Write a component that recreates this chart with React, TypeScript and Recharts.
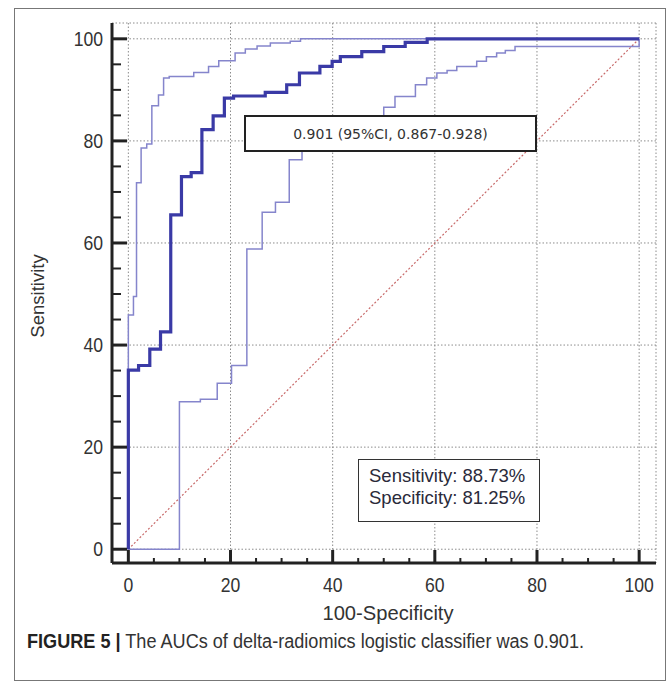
import React from 'react';
import { LineChart, Line, XAxis, YAxis, CartesianGrid } from 'recharts';

// ROC curve corner points (x = 100-Specificity, y = Sensitivity)
const rocX = [0, 0, 2, 4.2, 6.3, 8.3, 10.4, 12.3, 14.4, 16.6, 18.8, 20.6, 26.8, 31, 33.5, 37.5, 39.9, 41.5, 45.7, 50, 54.2, 58.5, 100];
const rocY = [0, 35.1, 36, 39.2, 42.6, 65.5, 73, 73.8, 82.2, 84.9, 88.4, 88.8, 89.5, 91, 93.3, 94.6, 95.6, 96.5, 97.5, 98.5, 99.3, 100, 100];

// upper 95% CI
const upperX = [0, 0, 1, 1.6, 2.5, 3.6, 4.6, 5.9, 6.9, 8, 12.8, 15.7, 17.7, 20.9, 22.9, 25.2, 27.8, 31.7, 33.7, 100];
const upperY = [0, 45.9, 49.5, 71.8, 78.6, 79.4, 86.9, 89, 92.3, 92.6, 93.4, 94.6, 95.7, 97.2, 98, 98.6, 99.2, 99.5, 100, 100];

// lower 95% CI
const lowerX = [0, 10, 14.1, 17.4, 20.2, 23.2, 26.2, 28.8, 31.5, 34, 38, 42, 46, 50, 52.2, 56.2, 58.4, 60.4, 62.4, 64.3, 68.2, 70.1, 72.1, 73.8, 75.7, 100];
const lowerY = [0, 28.9, 29.4, 32.5, 36, 58.8, 66, 68, 76.3, 78.5, 80.5, 82, 83.5, 86.6, 88.7, 91, 92.3, 93.3, 93.8, 94.6, 95.6, 96.5, 97.2, 97.7, 98.5, 100];

const chanceX = [0, 100];
const chanceY = [0, 100];

const majorTicks = [0, 20, 40, 60, 80, 100];
const allTicks = [0, 5, 10, 15, 20, 25, 30, 35, 40, 45, 50, 55, 60, 65, 70, 75, 80, 85, 90, 95, 100];

const toPoints = (xs: number[], ys: number[]) => xs.map((x, i) => ({ x, y: ys[i] }));

const rocData = toPoints(rocX, rocY);
const upperData = toPoints(upperX, upperY);
const lowerData = toPoints(lowerX, lowerY);
const chanceData = toPoints(chanceX, chanceY);

const ARIAL = "'Liberation Sans', Arial, sans-serif";

// ticks point inward, labels only on the majors (labels squeezed a bit, the scan uses a narrow face)
const XTick = (props: any) => {
  const { x, y, payload } = props;
  const major = majorTicks.includes(payload.value);
  return (
    <g>
      <line x1={x} x2={x} y1={y} y2={y - (major ? 13 : 5)} stroke="#222" strokeWidth={major ? 3 : 2} />
      {major && (
        <text transform={`translate(${x}, ${y + 29}) scale(0.88, 1)`} textAnchor="middle" fontSize={20} fontFamily={ARIAL} fill="#333">
          {payload.value}
        </text>
      )}
    </g>
  );
};

const YTick = (props: any) => {
  const { x, y, payload } = props;
  const major = majorTicks.includes(payload.value);
  return (
    <g>
      <line x1={x} x2={x + (major ? 15 : 9)} y1={y} y2={y} stroke="#222" strokeWidth={major ? 3 : 2} />
      {major && (
        <text transform={`translate(${x - 9}, ${y}) scale(0.88, 1)`} dy="0.36em" textAnchor="end" fontSize={20} fontFamily={ARIAL} fill="#333">
          {payload.value}
        </text>
      )}
    </g>
  );
};

export default function App() {
  return (
    <div style={{ position: 'absolute', left: 0, top: 0, width: 669, height: 689, background: '#fff' }}>
      <div
        style={{
          position: 'absolute', left: 14, top: 8, width: 652, height: 673,
          border: '1.5px solid #777', boxSizing: 'border-box',
        }}
      />
      <div style={{ position: 'absolute', left: 0, top: 0 }}>
        <LineChart width={669} height={689} margin={{ top: 23, right: 13, bottom: 86, left: 52 }}>
          <XAxis xAxisId="grid" type="number" dataKey="x" domain={[-3.2, 103.3]} ticks={majorTicks} hide allowDataOverflow />
          <YAxis yAxisId="grid" type="number" domain={[-2.7, 103.1]} ticks={majorTicks} hide allowDataOverflow />
          <CartesianGrid xAxisId="grid" yAxisId="grid" stroke="#8c8c8c" strokeDasharray="1.5 2" />
          <XAxis
            type="number"
            dataKey="x"
            domain={[-3.2, 103.3]}
            ticks={allTicks}
            interval={0}
            allowDataOverflow
            height={40}
            tickSize={0}
            tickMargin={0}
            tickLine={false}
            axisLine={{ stroke: '#222', strokeWidth: 3 }}
            tick={<XTick />}
          />
          <YAxis
            type="number"
            domain={[-2.7, 103.1]}
            ticks={allTicks}
            interval={0}
            allowDataOverflow
            width={60}
            tickSize={0}
            tickMargin={0}
            tickLine={false}
            axisLine={{ stroke: '#222', strokeWidth: 3 }}
            tick={<YTick />}
          />
          <Line data={chanceData} dataKey="y" type="linear" stroke="#c86a6a" strokeWidth={1.2} strokeDasharray="2 2" dot={false} isAnimationActive={false} />
          <Line data={lowerData} dataKey="y" type="stepAfter" stroke="#8585cc" strokeWidth={1.5} dot={false} isAnimationActive={false} />
          <Line data={upperData} dataKey="y" type="stepAfter" stroke="#8585cc" strokeWidth={1.5} dot={false} isAnimationActive={false} />
          <Line data={rocData} dataKey="y" type="stepAfter" stroke="#3a3aa6" strokeWidth={3.2} dot={false} isAnimationActive={false} />
        </LineChart>
      </div>

      {/* AUC box */}
      <div
        style={{
          position: 'absolute', left: 244, top: 115, width: 293, height: 37,
          border: '2px solid #222', boxSizing: 'border-box', background: '#fff',
          display: 'flex', alignItems: 'center', justifyContent: 'center',
          fontFamily: "'DejaVu Sans', Verdana, sans-serif", fontSize: 14, color: '#333',
        }}
      >
        0.901 (95%CI, 0.867-0.928)
      </div>

      {/* sensitivity / specificity box */}
      <div
        style={{
          position: 'absolute', left: 358, top: 459, width: 182, height: 63,
          border: '1.5px solid #333', boxSizing: 'border-box', background: '#fff',
          padding: '5px 0 0 10px', fontFamily: ARIAL, fontSize: 18.5, lineHeight: '22px', color: '#2a2a3a',
        }}
      >
        <div>Sensitivity: 88.73%</div>
        <div>Specificity: 81.25%</div>
      </div>

      <div
        style={{
          position: 'absolute', left: 388, top: 601, transform: 'translateX(-50%) scaleX(0.96)',
          fontFamily: ARIAL, fontSize: 21, color: '#333', whiteSpace: 'nowrap',
        }}
      >
        100-Specificity
      </div>
      <div
        style={{
          position: 'absolute', left: 38, top: 296, transform: 'translate(-50%, -50%) rotate(-90deg)',
          fontFamily: ARIAL, fontSize: 18.5, color: '#333', whiteSpace: 'nowrap',
        }}
      >
        Sensitivity
      </div>

      <div
        style={{
          position: 'absolute', left: 27, top: 630, fontFamily: ARIAL, fontSize: 20,
          color: '#333', whiteSpace: 'nowrap', transform: 'scaleX(0.905)', transformOrigin: 'left top',
        }}
      >
        <b style={{ color: '#222' }}>FIGURE 5 |</b> The AUCs of delta-radiomics logistic classifier was 0.901.
      </div>
    </div>
  );
}
